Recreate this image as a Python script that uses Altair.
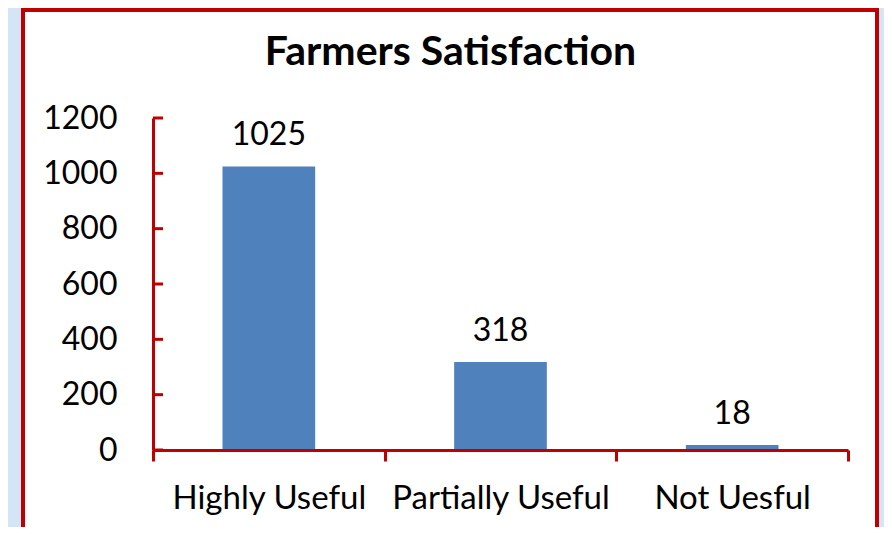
import altair as alt
import pandas as pd

categories = ["Highly Useful", "Partially Useful", "Not Uesful"]
values = [1025, 318, 18]
y_ticks = [0, 200, 400, 600, 800, 1000, 1200]

df = pd.DataFrame({"category": categories, "value": values})
ticks_df = pd.DataFrame({"tick": y_ticks})
one = pd.DataFrame({"a": [0]})

RED = "#C00000"
BLUE_BG = "#d3e5f7"
FONT = "Lato"

W, H = 695, 332

xscale = alt.Scale(domain=categories, paddingInner=0, paddingOuter=0)
yscale = alt.Scale(domain=[0, 1200])

left_strip = alt.Chart(one).mark_rect(fill=BLUE_BG).encode(
    x=alt.value(-146), x2=alt.value(-132), y=alt.value(-111), y2=alt.value(410)
)
right_strip = alt.Chart(one).mark_rect(fill=BLUE_BG).encode(
    x=alt.value(726), x2=alt.value(732), y=alt.value(-111), y2=alt.value(410)
)
panel = alt.Chart(one).mark_rect(fillOpacity=0, stroke=RED, strokeWidth=4).encode(
    x=alt.value(-130), x2=alt.value(724), y=alt.value(-108), y2=alt.value(440)
)

bars = alt.Chart(df).mark_bar(color="#4F81BD", width=alt.RelativeBandSize(0.4)).encode(
    x=alt.X("category:N", scale=xscale, sort=categories, title=None,
            axis=alt.Axis(labelAngle=0, labelFontSize=33, labelFont=FONT, labelColor="black",
                          domainColor=RED, domainWidth=3, tickColor=RED, tickWidth=3,
                          tickSize=11, tickBand="extent", labelPadding=21, labelLimit=400,
                          zindex=1)),
    y=alt.Y("value:Q", scale=yscale, title=None,
            axis=alt.Axis(values=y_ticks, format="d", grid=False, labelFontSize=32,
                          labelFont=FONT, labelColor="black", domainColor=RED, domainWidth=3,
                          tickSize=0, labelPadding=36, zindex=1)),
)

labels = alt.Chart(df).mark_text(fontSize=32, font=FONT, color="black", baseline="alphabetic", dy=-21).encode(
    x=alt.X("category:N", scale=xscale, sort=categories),
    y=alt.Y("value:Q", scale=yscale),
    text="value:Q",
)

yticks = alt.Chart(ticks_df).mark_rule(color=RED, strokeWidth=3).encode(
    y=alt.Y("tick:Q", scale=yscale),
    x=alt.value(0), x2=alt.value(10),
)

chart = alt.layer(left_strip, right_strip, panel, bars, labels, yticks).properties(
    width=W, height=H,
    title=alt.TitleParams("Farmers Satisfaction", fontSize=41, font=FONT, fontWeight="bold",
                          color="black", anchor="middle", frame="group", dx=-50,
                          baseline="alphabetic", offset=-99),
    autosize=alt.AutoSizeParams(type="none"),
    padding={"left": 145, "top": 110, "right": 36, "bottom": 77},
).configure(background="white").configure_view(stroke=None)

chart.save("out.html", embed_options={"renderer": "svg", "actions": False})
